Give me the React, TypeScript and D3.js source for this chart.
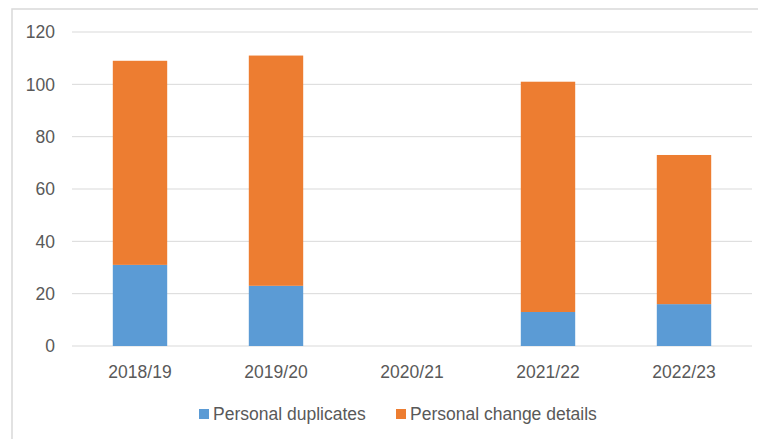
import React from "react";
import * as d3 from "d3";

const categories = ["2018/19", "2019/20", "2020/21", "2021/22", "2022/23"];
const duplicates = [31, 23, 0, 13, 16];
const changeDetails = [78, 88, 0, 88, 57];
const yTicks = [0, 20, 40, 60, 80, 100, 120];
const seriesNames = ["Personal duplicates", "Personal change details"];
const colors = ["#5B9BD5", "#ED7D31"];

export default function App() {
  const W = 758, H = 439;
  const left = 72, right = 752, top = 32, bottom = 346;
  const x = d3.scaleBand<string>().domain(categories).range([left, right]).paddingInner(0.6).paddingOuter(0.3);
  const y = d3.scaleLinear().domain([0, 120]).range([bottom, top]);
  const rows = categories.map((c, i) => ({ cat: c, dup: duplicates[i], chg: changeDetails[i] }));
  const stack = d3.stack<any>().keys(["dup", "chg"])(rows as any);
  const font = "'Liberation Sans', Arial, sans-serif";
  const textColor = "#595959";
  const fs = 17.5;
  const legendX = [199, 396];
  return (
    <svg width={W} height={H} style={{ position: "absolute", left: 0, top: 0, background: "#fff" }}>
      <rect x={12} y={9} width={W + 20} height={H + 20} fill="#fff" stroke="#d9d9d9" strokeWidth={1.5} />
      {yTicks.map((t) => (
        <g key={t}>
          <line x1={left} x2={right} y1={y(t)} y2={y(t)} stroke="#d9d9d9" strokeWidth={1} />
          <text x={55} y={y(t)} dy="0.36em" textAnchor="end" fontFamily={font} fontSize={fs} fill={textColor}>
            {t}
          </text>
        </g>
      ))}
      {stack.map((s, si) => (
        <g key={si} fill={colors[si]}>
          {s.map((d: any, i: number) =>
            d[1] - d[0] > 0 ? (
              <rect key={i} x={x(categories[i])} y={y(d[1])} width={x.bandwidth()} height={y(d[0]) - y(d[1])} />
            ) : null
          )}
        </g>
      ))}
      {categories.map((c) => (
        <text key={c} x={(x(c) as number) + x.bandwidth() / 2} y={378} textAnchor="middle" fontFamily={font} fontSize={fs} fill={textColor}>
          {c}
        </text>
      ))}
      {seriesNames.map((n, i) => (
        <g key={n}>
          <rect x={legendX[i]} y={409} width={10} height={10} fill={colors[i]} />
          <text x={legendX[i] + 14} y={420} fontFamily={font} fontSize={fs} fill={textColor}>
            {n}
          </text>
        </g>
      ))}
    </svg>
  );
}
